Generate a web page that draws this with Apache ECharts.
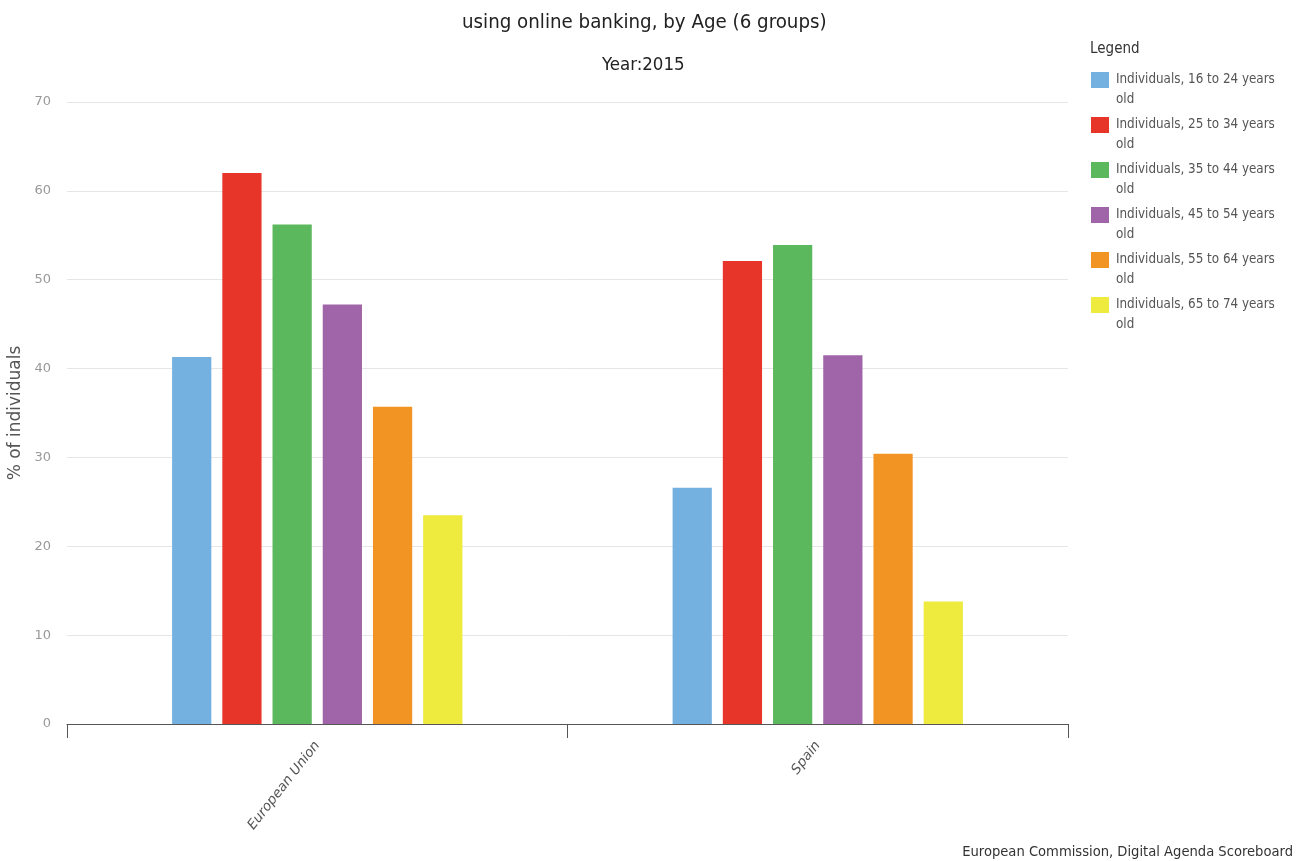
<!DOCTYPE html>
<html>
<head>
<meta charset="utf-8">
<script src="https://cdn.jsdelivr.net/npm/echarts@6/dist/echarts.min.js"></script>
<style>html,body{margin:0;padding:0;background:#fff;}#c{width:1304px;height:861px;}</style>
</head>
<body>
<div id="c"></div>
<script>
const categories = ['European Union', 'Spain'];
const seriesNames = [
  'Individuals, 16 to 24 years old',
  'Individuals, 25 to 34 years old',
  'Individuals, 35 to 44 years old',
  'Individuals, 45 to 54 years old',
  'Individuals, 55 to 64 years old',
  'Individuals, 65 to 74 years old'
];
const age16to24 = [41.3, 26.6];
const age25to34 = [62.0, 52.1];
const age35to44 = [56.2, 53.9];
const age45to54 = [47.2, 41.5];
const age55to64 = [35.7, 30.4];
const age65to74 = [23.5, 13.8];
const seriesValues = [age16to24, age25to34, age35to44, age45to54, age55to64, age65to74];
const colors = ['#74b0e0', '#e8352a', '#5cb85c', '#a064a8', '#f29423', '#eeea3e'];
const yTicks = [0, 10, 20, 30, 40, 50, 60, 70];

const titleFont = '"DejaVu Sans Condensed", "Liberation Sans Narrow", sans-serif';
const chart = echarts.init(document.getElementById('c'), null, {renderer: 'canvas'});
chart.setOption({
  animation: false,
  color: colors,
  title: [
    {text: 'using online banking, by Age (6 groups)', left: 457, top: 8,
     textStyle: {fontFamily: titleFont, fontSize: 20.3, fontWeight: 'normal', color: '#222'}},
    {text: 'Year:2015', left: 597, top: 51,
     textStyle: {fontFamily: titleFont, fontSize: 18.5, fontWeight: 'normal', color: '#222'}},
    {text: 'Legend', left: 1085, top: 37,
     textStyle: {fontFamily: titleFont, fontSize: 15, fontWeight: 'normal', color: '#333'}},
    {text: 'European Commission, Digital Agenda Scoreboard', right: 6, bottom: -4,
     textStyle: {fontFamily: titleFont, fontSize: 14.6, fontWeight: 'normal', color: '#333'}}
  ],
  legend: {
    orient: 'vertical', left: 1086, top: 43, itemWidth: 18, itemHeight: 16, itemGap: -19,
    icon: 'rect', selectedMode: false,
    formatter: n => '\n' + n.replace(' old', '\nold'),
    textStyle: {fontFamily: titleFont, fontSize: 13.3, color: '#555', lineHeight: 20,
                padding: [4, 0, 0, 2]},
    data: seriesNames
  },
  grid: {left: 67, right: 236, top: 102, bottom: 137, containLabel: false, outerBoundsMode: 'none'},
  xAxis: {
    type: 'category', data: categories,
    axisLine: {lineStyle: {color: '#555', width: 1}},
    axisTick: {show: true, length: 14, lineStyle: {color: '#555'}},
    axisLabel: {rotate: 52, margin: 19, fontStyle: 'italic', fontSize: 13.5, color: '#555',
                fontFamily: '"DejaVu Sans", sans-serif'}
  },
  yAxis: {
    type: 'value', min: yTicks[0], max: yTicks[yTicks.length - 1], interval: 10,
    name: '% of individuals', nameLocation: 'middle', nameGap: 43, nameMoveOverlap: false,
    nameTextStyle: {fontSize: 17, color: '#555', fontFamily: '"DejaVu Sans", sans-serif'},
    axisLine: {show: false}, axisTick: {show: false},
    axisLabel: {color: '#999', fontSize: 13, margin: 16, fontFamily: '"DejaVu Sans", sans-serif'},
    splitLine: {lineStyle: {color: '#e6e6e6'}}
  },
  series: seriesNames.map((n, i) => ({
    name: n, type: 'bar', data: seriesValues[i],
    barGap: '28%', barCategoryGap: '42%'
  }))
});
</script>
</body>
</html>
